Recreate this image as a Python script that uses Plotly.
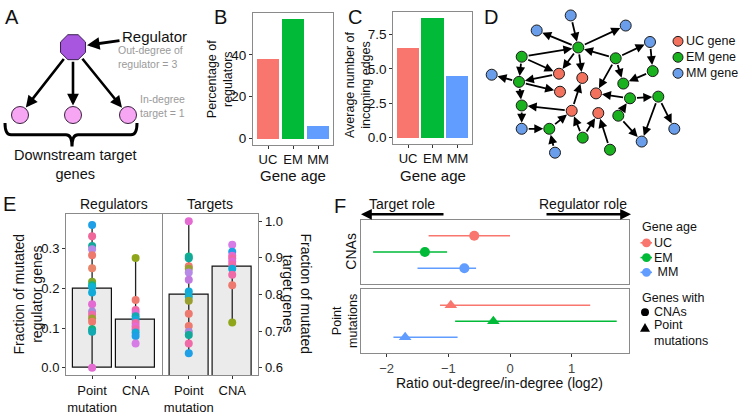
import plotly.graph_objects as go

FONT = "Liberation Sans, Arial, Helvetica, sans-serif"
W, H = 741, 415

# ---------------- data ----------------
gene_ages = ["UC", "EM", "MM"]
pct_regulators = [38.3, 57.2, 5.9]
avg_incoming_edges = [6.56, 8.75, 4.55]

# Panel A schematic (regulator + 3 targets), pixel layout
a_reg_x, a_reg_y = [73], [48]
a_target_x = [20, 73, 128]
a_target_y = [117, 117, 117]

# Panel D network (node layout in pixels)
net_x = [570.7, 536.7, 625.7, 650, 491.7, 521.7, 555, 641.7, 674.3,
         578.3, 521.7, 615.7, 652.7, 519, 623.3, 630, 658.3, 521.7, 618.3, 549.3, 582.7, 610,
         559, 582.3, 560, 596, 571.7, 598.3]
net_y = [15.7, 31, 26, 42.7, 76, 131, 155.3, 144, 131,
         48.3, 57.7, 59.3, 72.3, 83.3, 85, 100, 98.3, 107.3, 117.7, 131, 140, 152.3,
         75, 79.3, 93.3, 95, 112.7, 115]
net_age = ["MM"] * 9 + ["EM"] * 13 + ["UC"] * 6
edge_from = [0, 9, 9, 10, 11, 9, 9, 10, 10, 13, 22, 13, 13, 17, 5, 6, 19, 26, 26, 20, 20, 21,
             11, 11, 11, 3, 12, 15, 15, 18, 18, 16, 16]
edge_to = [9, 1, 2, 9, 9, 22, 23, 13, 22, 4, 13, 24, 17, 5, 19, 19, 26, 17, 23, 26, 27, 27,
           25, 3, 14, 12, 14, 25, 16, 15, 7, 7, 8]

# Panel E
e_categories = ["Point<br>mutation", "CNA"]
reg_fraction = [0.200, 0.121]
reg_point_mut = [0.360, 0.332, 0.307, 0.299, 0.284, 0.251, 0.217, 0.208, 0.204, 0.190,
                 0.160, 0.142, 0.134, 0.124, 0.116, 0.097, 0.091, 0.000]
reg_cna = [0.277, 0.171, 0.146, 0.138, 0.130, 0.122, 0.113, 0.105, 0.097, 0.089, 0.080, 0.061]
tgt_fraction = [0.800, 0.877]
tgt_point_mut = [1.000, 0.904, 0.899, 0.877, 0.870, 0.860, 0.840, 0.808, 0.794, 0.783,
                 0.747, 0.714, 0.698, 0.689, 0.666, 0.639]
tgt_cna = [0.936, 0.917, 0.906, 0.899, 0.890, 0.881, 0.870, 0.854, 0.825, 0.723]

# Panel F
f_cna_center = [-0.58, -1.38, -0.74]
f_cna_low = [-1.32, -2.22, -1.50]
f_cna_high = [0.00, -1.02, -0.55]
f_pm_center = [-0.96, -0.27, -1.70]
f_pm_low = [-1.135, -0.89, -1.89]
f_pm_high = [1.30, 1.73, -0.85]

# ---------------- styles ----------------
age_colors = ["#F8766D", "#00BA38", "#619CFF"]
net_colors = {"UC": "#F2725E", "EM": "#19B21E", "MM": "#6A9EEA"}
reg_pm_cols = ["#1E9FE6", "#F0679A", "#12A99A", "#B68AE6", "#EE7A6F", "#E8856A", "#7FA52A",
               "#12B48A", "#12B0D2", "#12AAD8", "#E46BD2", "#A98AD8", "#F06AA8", "#9AA030",
               "#EE7A6F", "#12B080", "#12A9B0", "#E46BD2"]
reg_cna_cols = ["#8FA51A", "#EE7A6F", "#F06AA8", "#E46BD2", "#12A9B0", "#12AAD8", "#F06AA8",
                "#E46BD2", "#F06AA8", "#12AAD8", "#1E9FE6", "#D77BE6"]
tgt_pm_cols = ["#E46BD2", "#12B48A", "#12A99A", "#EE7A6F", "#9AA030", "#B68AE6", "#C07AE0",
               "#12AAD8", "#12B0D2", "#9AA030", "#EE7A6F", "#EE7A6F", "#A98AD8", "#12A99A",
               "#F06AA8", "#1E9FE6"]
tgt_cna_cols = ["#D77BE6", "#1E9FE6", "#E46BD2", "#F06AA8", "#E46BD2", "#F06AA8", "#12AAD8",
                "#F06AA8", "#EE7A6F", "#8FA51A"]
FRAME = "#8a8a8a"
TICKC = "#333333"


def dx(a, b):
    return [a / W, b / W]


def dy(top, bottom):
    return [1 - bottom / H, 1 - top / H]


fig = go.Figure()

# ---- Panel B ----
fig.add_trace(go.Bar(x=gene_ages, y=pct_regulators, marker=dict(color=age_colors, line_width=0),
                     width=0.9, xaxis="x", yaxis="y", showlegend=False))
# ---- Panel C ----
fig.add_trace(go.Bar(x=gene_ages, y=avg_incoming_edges, marker=dict(color=age_colors, line_width=0),
                     width=0.9, xaxis="x2", yaxis="y2", showlegend=False))

# ---- Panel A diagram (overlay pixel axis x3/y3) ----
fig.add_trace(go.Scatter(x=a_reg_x, y=a_reg_y, mode="markers", xaxis="x3", yaxis="y3",
                         marker=dict(symbol="octagon", size=27, color="#A855E0",
                                     line=dict(color="#3a2050", width=1)),
                         showlegend=False, hoverinfo="skip"))
fig.add_trace(go.Scatter(x=a_target_x, y=a_target_y, mode="markers", xaxis="x3", yaxis="y3",
                         marker=dict(symbol="circle", size=17, color="#F6A6F2",
                                     line=dict(color="#3a2040", width=1)),
                         showlegend=False, hoverinfo="skip"))

# ---- Panel D network ----
for age in ["UC", "EM", "MM"]:
    xs = [x for x, a in zip(net_x, net_age) if a == age]
    ys = [y for y, a in zip(net_y, net_age) if a == age]
    fig.add_trace(go.Scatter(x=xs, y=ys, mode="markers", xaxis="x3", yaxis="y3",
                             marker=dict(size=11, color=net_colors[age],
                                         line=dict(color="#1a1a1a", width=1)),
                             showlegend=False, hoverinfo="skip"))

# ---- Panel E ----
fig.add_trace(go.Bar(x=e_categories, y=reg_fraction, width=0.9, xaxis="x4", yaxis="y4",
                     marker=dict(color="#EBEBEB", line=dict(color="#111111", width=1.2)),
                     showlegend=False))
fig.add_trace(go.Bar(x=e_categories, y=tgt_fraction, width=0.9, xaxis="x5", yaxis="y5",
                     marker=dict(color="#EBEBEB", line=dict(color="#111111", width=1.2)),
                     showlegend=False))
for vals, cat, cols, xa, ya in [
        (reg_point_mut, e_categories[0], reg_pm_cols, "x4", "y4"),
        (reg_cna, e_categories[1], reg_cna_cols, "x4", "y4"),
        (tgt_point_mut, e_categories[0], tgt_pm_cols, "x5", "y5"),
        (tgt_cna, e_categories[1], tgt_cna_cols, "x5", "y5")]:
    fig.add_trace(go.Scatter(x=[cat, cat], y=[min(vals), max(vals)], mode="lines",
                             line=dict(color="#222222", width=1.3), xaxis=xa, yaxis=ya,
                             showlegend=False, hoverinfo="skip"))
    fig.add_trace(go.Scatter(x=[cat] * len(vals), y=vals, mode="markers",
                             marker=dict(color=cols, size=8), xaxis=xa, yaxis=ya,
                             showlegend=False))

# ---- Panel F ----
n_age = len(gene_ages)
for i, age in enumerate(gene_ages):
    yrow = n_age - i
    c, lo, hi = f_cna_center[i], f_cna_low[i], f_cna_high[i]
    fig.add_trace(go.Scatter(x=[c], y=[yrow], mode="markers", xaxis="x6", yaxis="y6",
                             marker=dict(symbol="circle", size=10, color=age_colors[i]),
                             error_x=dict(type="data", symmetric=False, array=[hi - c],
                                          arrayminus=[c - lo], color=age_colors[i],
                                          thickness=1.6, width=0),
                             showlegend=False))
    c, lo, hi = f_pm_center[i], f_pm_low[i], f_pm_high[i]
    fig.add_trace(go.Scatter(x=[c], y=[yrow], mode="markers", xaxis="x7", yaxis="y7",
                             marker=dict(symbol="triangle-up", size=11, color=age_colors[i]),
                             error_x=dict(type="data", symmetric=False, array=[hi - c],
                                          arrayminus=[c - lo], color=age_colors[i],
                                          thickness=1.6, width=0),
                             showlegend=False))

# ---------------- axes ----------------
def frame(anchor, size=14, color="#111111"):
    return dict(anchor=anchor, showline=True, linecolor=FRAME, linewidth=1, mirror=True,
                showgrid=False, zeroline=False, ticks="outside", ticklen=3, tickcolor=TICKC,
                tickfont=dict(family=FONT, size=size, color=color), fixedrange=True)


def bare(anchor):
    return dict(anchor=anchor, showline=True, linecolor=FRAME, linewidth=1, mirror=True,
                showgrid=False, zeroline=False, ticks="", showticklabels=False, fixedrange=True)


layout = dict(
    width=W, height=H, margin=dict(l=0, r=0, t=0, b=0, pad=0),
    paper_bgcolor="white", plot_bgcolor="rgba(0,0,0,0)",
    font=dict(family=FONT, color="#111111"),
    bargap=0,
    xaxis=dict(domain=dx(253, 333), range=[-0.6, 2.6], **frame("y", 13)),
    yaxis=dict(domain=dy(13, 147), range=[-2.86, 60.06], tickvals=[0, 20, 40], **frame("x", 13.5)),
    xaxis2=dict(domain=dx(393.3, 472.3), range=[-0.6, 2.6], **frame("y2", 13)),
    yaxis2=dict(domain=dy(11.7, 146), range=[-0.44, 9.19], tickvals=[0, 2.5, 5, 7.5],
                tickformat=".1f", **frame("x2", 13.5)),
    xaxis3=dict(domain=[0, 1], range=[0, W], visible=False, fixedrange=True, anchor="y3"),
    yaxis3=dict(domain=[0, 1], range=[H, 0], visible=False, fixedrange=True, anchor="x3"),
    xaxis4=dict(domain=dx(66, 161.7), range=[-0.6, 1.6], **frame("y4", 13)),
    yaxis4=dict(domain=dy(217.3, 381.7), range=[-0.019, 0.389], tickvals=[0, 0.1, 0.2, 0.3],
                tickformat=".1f", **frame("x4", 13)),
    xaxis5=dict(domain=dx(162.7, 258.3), range=[-0.6, 1.6], **frame("y5", 13)),
    yaxis5=dict(domain=dy(217.3, 381.7), range=[0.579, 1.021], side="right",
                tickvals=[0.6, 0.7, 0.8, 0.9, 1.0], tickformat=".1f", **frame("x5", 13)),
    xaxis6=dict(domain=dx(361, 629.3), range=[-2.416, 1.934], **bare("y6")),
    yaxis6=dict(domain=dy(223.3, 289.3), range=[0, 4], **bare("x6")),
    xaxis7=dict(domain=dx(361, 629.3), range=[-2.416, 1.934], tickvals=[-2, -1, 0, 1],
                **frame("y7", 13, "#444444")),
    yaxis7=dict(domain=dy(294.3, 359.3), range=[0, 4], **bare("x7")),
)
fig.update_layout(**layout)

# ---------------- annotations / shapes ----------------
anns = []
shapes = []


def txt(text, x, y, size=14, color="#111111", xa="center", ya="middle", angle=0):
    anns.append(dict(text=text, x=x, y=y, xref="x3", yref="y3", showarrow=False,
                     xanchor=xa, yanchor=ya, textangle=angle, borderpad=0,
                     align="left" if xa == "left" else "center",
                     font=dict(family=FONT, size=size, color=color)))


def arrow(x0, y0, x1, y1, width=2.0, size=1.0, s0=0, s1=0, color="#000000"):
    anns.append(dict(x=x1, y=y1, ax=x0, ay=y0, xref="x3", yref="y3", axref="x3", ayref="y3",
                     text="", showarrow=True, arrowhead=2, arrowsize=size, arrowwidth=width,
                     arrowcolor=color, standoff=s1, startstandoff=s0))


# panel letters
for letter, x, y in [("A", 12, 17), ("B", 220, 17), ("C", 355, 17), ("D", 491, 17),
                     ("E", 9, 208), ("F", 340, 210)]:
    txt(letter, x, y, size=20)

# Panel A
for tx, ty in zip(a_target_x, a_target_y):
    arrow(a_reg_x[0], a_reg_y[0], tx, ty, width=2.6, size=0.9, s0=13, s1=9.5)
arrow(121, 41, 87, 46, width=2.8, size=0.9)
txt("Regulator", 121, 37, size=15, xa="left")
txt("Out-degree of<br>regulator = 3", 117, 58, size=10.5, color="#9a9a9a", xa="left")
txt("In-degree<br>target = 1", 139, 108, size=10.5, color="#9a9a9a", xa="left")
shapes.append(dict(type="path", xref="x3", yref="y3",
                   path="M 5 125 Q 5 137 11 137 L 66 137 Q 72 137 72 149 "
                        "Q 72 137 78 137 L 131 137 Q 137 137 137 125",
                   line=dict(color="#000000", width=3)))
txt("Downstream target<br>genes", 75, 167, size=14.5)

# Panel B / C axis titles
txt("Percentage of<br>regulators", 219.5, 81, size=12.5, angle=-90)
txt("Gene age", 293, 179, size=15)
txt("Average number of<br>incoming edges", 357.5, 86, size=12.5, angle=-90)
txt("Gene age", 433, 179, size=15)

# Panel D network edges
for f, t in zip(edge_from, edge_to):
    arrow(net_x[f], net_y[f], net_x[t], net_y[t], width=1.8, size=1.0, s0=5.5, s1=6)
for i, age in enumerate(gene_ages):
    yy = 42 + 16.3 * i
    shapes.append(dict(type="circle", xref="x3", yref="y3", x0=673, x1=683, y0=yy - 5,
                       y1=yy + 5, fillcolor=net_colors[age],
                       line=dict(color="#1a1a1a", width=1)))
    txt(age + " gene", 685, yy, size=12.5, xa="left")

# Panel E titles
txt("Regulators", 114, 208, size=14)
txt("Targets", 210, 208, size=14)
txt("Fraction of mutated<br>regulator genes", 27.5, 299, size=14, angle=-90)
txt("Fraction of mutated<br>target genes", 297.5, 299, size=14, angle=90)

# Panel F texts
txt("Target role", 368, 208, size=14, xa="left")
txt("Regulator role", 628, 208, size=14, xa="right")
arrow(445, 218, 361, 218, width=2.4, size=0.9)
arrow(545, 218, 631, 218, width=2.4, size=0.9)
txt("CNAs", 351, 256, size=14, angle=-90)
txt("Point<br>mutations", 345.5, 327, size=12.5, angle=-90)
txt("Ratio out-degree/in-degree (log2)", 499, 390, size=14)

# F legend
txt("Gene age", 641, 230.5, size=12.5, xa="left")
for i, age in enumerate(gene_ages):
    yy = 247 + 15 * i
    shapes.append(dict(type="line", xref="x3", yref="y3", x0=640.5, x1=652, y0=yy, y1=yy,
                       line=dict(color=age_colors[i], width=1.6)))
    shapes.append(dict(type="circle", xref="x3", yref="y3", x0=642, x1=651, y0=yy - 4.5,
                       y1=yy + 4.5, fillcolor=age_colors[i], line=dict(width=0)))
    txt(age if age != "MM" else " MM", 653, yy, size=12.5, xa="left")
txt("Genes with", 641, 303, size=12.5, xa="left")
shapes.append(dict(type="circle", xref="x3", yref="y3", x0=641, x1=649, y0=313.5, y1=321.5,
                   fillcolor="#000000", line=dict(width=0)))
txt("CNAs", 653, 317.5, size=12.5, xa="left")
shapes.append(dict(type="path", xref="x3", yref="y3", path="M 640 337.5 L 650 337.5 L 645 328.5 Z",
                   fillcolor="#000000", line=dict(width=0)))
txt("Point<br>mutations", 653, 338.5, size=12.5, xa="left")

fig.update_layout(annotations=anns, shapes=shapes)
fig.write_html("out.html", config={"displayModeBar": False},
               post_script="document.body.style.margin='0';document.body.style.padding='0';")
